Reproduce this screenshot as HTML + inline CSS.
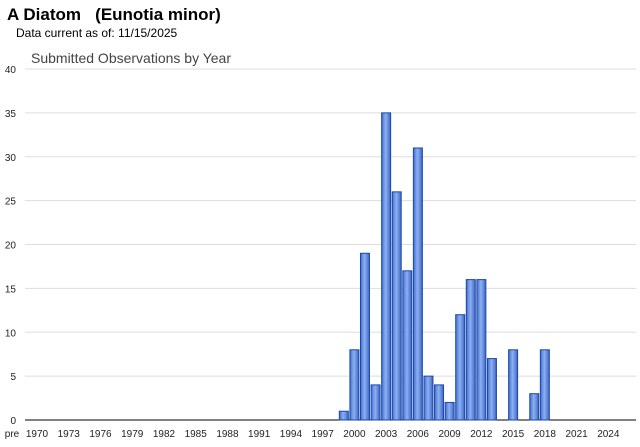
<!DOCTYPE html>
<html><head><meta charset="utf-8"><style>
body{margin:0;background:#fff;width:640px;height:442px;overflow:hidden;font-family:"Liberation Sans",sans-serif}
</style></head><body>
<svg width="640" height="442">
<defs><linearGradient id="g" x1="0" x2="1" y1="0" y2="0">
<stop offset="0" stop-color="#3f6fd0"/><stop offset="0.45" stop-color="#8fb0f0"/><stop offset="1" stop-color="#3a66c8"/></linearGradient></defs>
<text x="7" y="20" font-size="17" font-weight="bold" fill="#000">A Diatom &#160; (Eunotia minor)</text>
<text x="16" y="37" font-size="12" fill="#000">Data current as of: 11/15/2025</text>
<text x="31" y="63" font-size="14" fill="#444">Submitted Observations by Year</text>
<g id="grid"></g><g id="bars"></g><g id="xl"></g>
</svg>
<script>
const yTicks=[0,5,10,15,20,25,30,35,40];
const years=[1999,2000,2001,2002,2003,2004,2005,2006,2007,2008,2009,2010,2011,2012,2013,2014,2015,2016,2017,2018];
const counts=[1,8,19,4,35,26,17,31,5,4,2,12,16,16,7,0,8,0,3,8];
const xLabels=["1970","1973","1976","1979","1982","1985","1988","1991","1994","1997","2000","2003","2006","2009","2012","2015","2018","2021","2024"];
const NS="http://www.w3.org/2000/svg";
const y0=420,pxu=8.775,x0=37,step=10.58;
const Y=v=>y0-v*pxu, X=yr=>x0+(yr-1970)*step;
function mk(t,a,p){const e=document.createElementNS(NS,t);for(const k in a)e.setAttribute(k,a[k]);p.appendChild(e);return e;}
const grid=document.getElementById('grid');
yTicks.forEach(v=>{
 const l=mk('line',{x1:25,x2:636,y1:Y(v),y2:Y(v),stroke:v?'#ddd':'#000','stroke-width':1},grid);
 
 
 const t=mk('text',{x:16,y:Y(v)+4,'font-size':10,'text-anchor':'end',fill:'#222'},grid);
 t.textContent=v;
 
 
});
const bars=document.getElementById('bars');
years.forEach((yr,i)=>{
 const v=counts[i]; if(!v) return;
 const r=mk('rect',{x:X(yr)-4.5,y:Y(v),width:9,height:v*pxu,fill:'url(#g)',stroke:'#1c48a8','stroke-width':1},bars);
 
 
});
const xl=document.getElementById('xl');
const p=mk('text',{x:12,y:437,'font-size':10,'text-anchor':'middle',fill:'#222'},xl);
p.textContent='pre';


xLabels.forEach(s=>{
 const t=mk('text',{x:X(+s),y:437,'font-size':10,'text-anchor':'middle',fill:'#222'},xl);
 t.textContent=s;
 
 
});
</script>
</body></html>
